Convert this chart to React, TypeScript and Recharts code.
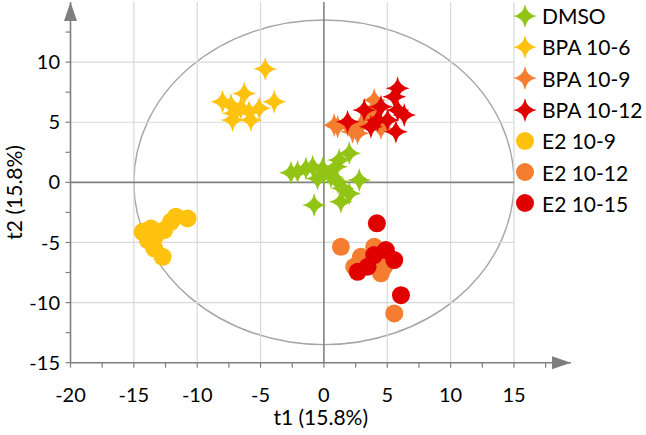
import React from 'react';
import { ScatterChart, Scatter, XAxis, YAxis, ReferenceLine, ReferenceArea, ReferenceDot } from 'recharts';

type Pt = { x: number; y: number };
const P = (a: number[][]): Pt[] => a.map(([x, y]) => ({ x, y }));

const dmso = P([[-2.6,0.8],[-2.08,0.88],[-1.42,1.16],[-0.89,1.30],[-0.10,1.16],[-0.50,0.33],[0.02,0.75],[1.21,1.86],[2.00,2.41],[0.95,1.30],[2.79,0.19],[1.48,-0.50],[2.00,-0.92],[1.34,-1.61],[-0.77,-1.89],[0.55,0.47],[1.08,0.05]]);
const bpa6 = P([[-4.63,9.43],[-8.0,6.71],[-7.34,6.43],[-6.29,7.40],[-3.92,6.71],[-7.08,5.74],[-5.90,5.87],[-5.76,5.18],[-7.21,5.18],[-5.11,6.16],[-6.55,6.16]]);
const bpa9 = P([[1.08,4.63],[1.87,4.77],[3.71,5.32],[2.92,4.77],[2.26,4.21],[3.97,6.16],[0.81,4.77],[3.97,6.85],[4.50,4.49],[2.66,4.08]]);
const bpa12 = P([[5.82,7.82],[5.55,7.12],[4.50,6.29],[6.34,5.60],[3.18,6.01],[1.87,5.04],[3.71,4.63],[5.68,4.21],[4.24,5.18],[5.03,5.18],[5.82,6.01]]);
const e2_9 = P([[-11.68,-2.86],[-10.76,-3.0],[-12.08,-3.28],[-14.31,-4.11],[-13.65,-3.83],[-13.26,-4.38],[-13.91,-4.80],[-13.39,-5.49],[-12.73,-6.19],[-12.60,-3.97]]);
const e2_12 = P([[1.34,-5.36],[2.92,-6.19],[4.50,-7.57],[5.55,-10.9],[2.39,-7.02],[3.97,-5.36],[4.76,-7.02]]);
const e2_15 = P([[4.18,-3.41],[4.89,-5.63],[5.55,-6.46],[3.45,-7.02],[2.66,-7.44],[3.97,-6.05],[6.08,-9.38]]);

const xTicks = [-20,-17.5,-15,-12.5,-10,-7.5,-5,-2.5,0,2.5,5,7.5,10,12.5,15,17.5];
const yTicks = [-15,-12.5,-10,-7.5,-5,-2.5,0,2.5,5,7.5,10,12.5];
const gridX = [-15,-10,-5,5,10,15];
const gridY = [-10,-5,5,10];

const C = {
  dmso: '#92C415',
  bpa6: '#FFC20E',
  bpa9: '#F47D30',
  bpa12: '#E10000',
  e2_9: '#FFC20E',
  e2_12: '#F47D30',
  e2_15: '#E10000',
};

const FONT = 'Lato, "Open Sans", sans-serif';

function starPath(cx: number, cy: number, R: number) {
  const c = R * 0.14;
  return `M${cx},${cy - R} Q${cx + c},${cy - c} ${cx + R},${cy} Q${cx + c},${cy + c} ${cx},${cy + R} Q${cx - c},${cy + c} ${cx - R},${cy} Q${cx - c},${cy - c} ${cx},${cy - R} Z`;
}

const starShape = (color: string) => (p: any) => <path d={starPath(p.cx, p.cy, 12)} fill={color} />;
const circleShape = (color: string) => (p: any) => <circle cx={p.cx} cy={p.cy} r={9} fill={color} />;

const XTick = (p: any) => {
  const v = p.payload.value;
  if (v % 5 !== 0) return <g />;
  return (
    <text x={p.x} y={p.y} dy="0.71em" textAnchor="middle" fontSize={20} fill="#000" fontFamily={FONT}>
      {v}
    </text>
  );
};
const YTick = (p: any) => {
  const v = p.payload.value;
  if (v % 5 !== 0) return <g />;
  return (
    <text x={p.x} y={p.y} dy="0.355em" textAnchor="end" fontSize={20} fill="#000" fontFamily={FONT}>
      {v}
    </text>
  );
};

const legendItems = [
  { name: 'DMSO', color: C.dmso, star: true },
  { name: 'BPA 10-6', color: C.bpa6, star: true },
  { name: 'BPA 10-9', color: C.bpa9, star: true },
  { name: 'BPA 10-12', color: C.bpa12, star: true },
  { name: 'E2 10-9', color: C.e2_9, star: false },
  { name: 'E2 10-12', color: C.e2_12, star: false },
  { name: 'E2 10-15', color: C.e2_15, star: false },
];

export default function App() {
  return (
    <div style={{ position: 'absolute', left: 0, top: 0, width: 646, height: 435, background: '#fff' }}>
      <ScatterChart width={646} height={435} margin={{ top: 2, right: 75, left: 0, bottom: 0 }}>
        <XAxis
          type="number"
          dataKey="x"
          domain={[-20, 19.5]}
          ticks={xTicks}
          interval={0}
          allowDataOverflow
          height={72.3}
          tickSize={5}
          tickMargin={20}
          stroke="#7f7f7f"
          axisLine={{ stroke: '#7f7f7f', strokeWidth: 1.6 }}
          tickLine={{ stroke: '#7f7f7f', strokeWidth: 1.2 }}
          tick={<XTick />}
          label={{ value: 't1 (15.8%)', position: 'insideBottom', offset: 10, fontSize: 21, fill: '#000', fontFamily: FONT }}
        />
        <YAxis
          type="number"
          dataKey="y"
          domain={[-15, 15]}
          ticks={yTicks}
          interval={0}
          allowDataOverflow
          width={70.5}
          tickSize={5}
          tickMargin={5.5}
          stroke="#7f7f7f"
          axisLine={{ stroke: '#7f7f7f', strokeWidth: 1.6 }}
          tickLine={{ stroke: '#7f7f7f', strokeWidth: 1.2 }}
          tick={<YTick />}
          label={(props: any) => {
            const vb = props.viewBox;
            const cx = 14;
            const cy = vb.y + vb.height / 2 + 10;
            return (
              <text x={cx} y={cy} transform={`rotate(-90 ${cx} ${cy})`} textAnchor="middle" dominantBaseline="central" fontSize={21} fill="#000" fontFamily={FONT}>
                t2 (15.8%)
              </text>
            );
          }}
        />
        {gridX.map((g) => (
          <ReferenceLine key={'gx' + g} segment={[{ x: g, y: -15 }, { x: g, y: 15 }]} stroke="#d9d9d9" strokeWidth={1.2} />
        ))}
        {gridY.map((g) => (
          <ReferenceLine key={'gy' + g} segment={[{ x: -20, y: g }, { x: 15, y: g }]} stroke="#d9d9d9" strokeWidth={1.2} />
        ))}
        <ReferenceLine segment={[{ x: -20, y: 0 }, { x: 15, y: 0 }]} stroke="#808080" strokeWidth={1.6} />
        <ReferenceLine segment={[{ x: 0, y: -15 }, { x: 0, y: 15 }]} stroke="#808080" strokeWidth={1.6} />
        <ReferenceArea
          x1={-15}
          x2={15}
          y1={-13.5}
          y2={13.5}
          shape={(p: any) => (
            <ellipse cx={p.x + p.width / 2} cy={p.y + p.height / 2} rx={Math.abs(p.width) / 2} ry={Math.abs(p.height) / 2} fill="none" stroke="#a6a6a6" strokeWidth={1.4} />
          )}
        />
        <ReferenceDot
          x={19.5}
          y={-15}
          r={0}
          shape={(p: any) => <polygon points={`${p.cx},${p.cy} ${p.cx - 19},${p.cy - 6.5} ${p.cx - 19},${p.cy + 6.5}`} fill="#7f7f7f" />}
        />
        <ReferenceDot
          x={-20}
          y={15}
          r={0}
          shape={(p: any) => <polygon points={`${p.cx},${p.cy} ${p.cx - 6.5},${p.cy + 19} ${p.cx + 6.5},${p.cy + 19}`} fill="#7f7f7f" />}
        />
        <Scatter name="DMSO" data={dmso} shape={starShape(C.dmso)} isAnimationActive={false} />
        <Scatter name="BPA 10-6" data={bpa6} shape={starShape(C.bpa6)} isAnimationActive={false} />
        <Scatter name="BPA 10-9" data={bpa9} shape={starShape(C.bpa9)} isAnimationActive={false} />
        <Scatter name="BPA 10-12" data={bpa12} shape={starShape(C.bpa12)} isAnimationActive={false} />
        <Scatter name="E2 10-9" data={e2_9} shape={circleShape(C.e2_9)} isAnimationActive={false} />
        <Scatter name="E2 10-12" data={e2_12} shape={circleShape(C.e2_12)} isAnimationActive={false} />
        <Scatter name="E2 10-15" data={e2_15} shape={circleShape(C.e2_15)} isAnimationActive={false} />
      </ScatterChart>
      <div style={{ position: 'absolute', left: 511, top: 0, fontFamily: FONT, fontSize: 21, color: '#000' }}>
        {legendItems.map((it) => (
          <div key={it.name} style={{ display: 'flex', alignItems: 'center', height: 31.3, whiteSpace: 'nowrap' }}>
            <svg width={28} height={28} style={{ marginRight: 3 }}>
              {it.star ? <path d={starPath(14, 14, 12)} fill={it.color} /> : <circle cx={14} cy={14} r={9} fill={it.color} />}
            </svg>
            <span>{it.name}</span>
          </div>
        ))}
      </div>
    </div>
  );
}
